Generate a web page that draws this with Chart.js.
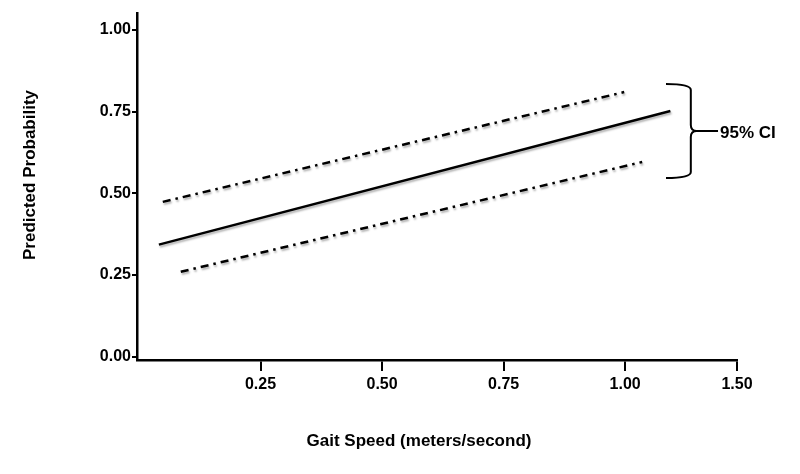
<!DOCTYPE html>
<html>
<head>
<meta charset="utf-8">
<script src="https://cdn.jsdelivr.net/npm/chart.js@4"></script>
<style>
  body { margin: 0; background: #fff; }
  canvas { display: block; }
</style>
</head>
<body>
<canvas id="myChart" width="800" height="474"></canvas>
<script>
'use strict';

// predicted probability line and its 95% CI
let fitSpeed = [0.041, 1.093];
let fitProb = [0.343, 0.752];
let upperSpeed = [0.049, 0.998];
let upperProb = [0.474, 0.81];
let lowerSpeed = [0.086, 1.035];
let lowerProb = [0.26, 0.596];

// axis ticks (last x tick sits at the end of the axis but reads 1.50)
let xTickValues = [0.25, 0.5, 0.75, 1.0, 1.23];
let xTickLabels = ['0.25', '0.50', '0.75', '1.00', '1.50'];
let yTickValues = [0, 0.25, 0.5, 0.75, 1.0];
let yTickLabels = ['0.00', '0.25', '0.50', '0.75', '1.00'];

let xTitle = 'Gait Speed (meters/second)';
let yTitle = 'Predicted Probability';

// brace for the CI label
let ciLabel = '95% CI';
let braceTop = 0.835;
let braceBottom = 0.547;
let braceLeft = 1.084;
let braceStem = 1.135;
let braceRight = 1.191;

let font = '"Liberation Sans", Arial, sans-serif';

function toPoints(xs, ys) {
    let pts = [];
    for (let i = 0; i < xs.length; i++) {
        pts.push({ x: xs[i], y: ys[i] });
    }
    return pts;
}

// soft drop shadow under the lines, like the original figure
let shadowPlugin = {
    id: 'shadow',
    beforeDatasetsDraw(chart) {
        let c = chart.ctx;
        c.save();
        c.shadowColor = 'rgba(0,0,0,0.3)';
        c.shadowBlur = 2;
        c.shadowOffsetX = 1;
        c.shadowOffsetY = 2;
    },
    afterDatasetsDraw(chart) {
        chart.ctx.restore();
    }
};

let labelPlugin = {
    id: 'labels',
    afterDraw(chart) {
        let c = chart.ctx;
        let xs = chart.scales.x;
        let ys = chart.scales.y;
        let top = ys.getPixelForValue(braceTop);
        let bottom = ys.getPixelForValue(braceBottom);
        let left = xs.getPixelForValue(braceLeft);
        let stem = xs.getPixelForValue(braceStem);
        let right = xs.getPixelForValue(braceRight);
        let mid = (top + bottom) / 2;
        let r = 6;
        c.save();
        c.strokeStyle = '#000';
        c.lineWidth = 2;
        c.beginPath();
        c.moveTo(left, top);
        c.quadraticCurveTo(stem, top, stem, top + r);
        c.lineTo(stem, mid - r);
        c.quadraticCurveTo(stem, mid, stem + r, mid);
        c.quadraticCurveTo(stem, mid, stem, mid + r);
        c.lineTo(stem, bottom - r);
        c.quadraticCurveTo(stem, bottom, left, bottom);
        c.moveTo(stem + r, mid);
        c.lineTo(right, mid);
        c.stroke();

        c.fillStyle = '#000';
        c.font = 'bold 17px ' + font;
        c.textAlign = 'left';
        c.textBaseline = 'middle';
        c.fillText(ciLabel, right + 2, mid + 2);

        // axis titles
        c.textAlign = 'center';
        c.fillText(xTitle, 419, 441);
        c.translate(30, 175);
        c.rotate(-Math.PI / 2);
        c.fillText(yTitle, 0, 0);
        c.restore();
    }
};

let lineStyle = {
    showLine: true,
    pointRadius: 0,
    borderColor: '#000',
    borderWidth: 2.5,
    fill: false
};

let ctx = document.getElementById('myChart').getContext('2d');
let myChart = new Chart(ctx, {
    type: 'scatter',
    data: {
        datasets: [
            Object.assign({ label: 'Predicted', data: toPoints(fitSpeed, fitProb) }, lineStyle),
            Object.assign({ label: 'Upper CI', data: toPoints(upperSpeed, upperProb), borderDash: [8, 5, 2.5, 5] }, lineStyle),
            Object.assign({ label: 'Lower CI', data: toPoints(lowerSpeed, lowerProb), borderDash: [8, 5, 2.5, 5] }, lineStyle)
        ]
    },
    options: {
        responsive: false,
        animation: false,
        layout: { padding: { top: 13, right: 63, left: 0, bottom: 0 } },
        plugins: {
            legend: { display: false },
            tooltip: { enabled: false }
        },
        scales: {
            x: {
                type: 'linear',
                min: -0.004,
                max: 1.23,
                afterFit(scale) { scale.height = 114; },
                afterBuildTicks(scale) {
                    scale.ticks = xTickValues.map(v => ({ value: v }));
                },
                ticks: {
                    color: '#000',
                    padding: 4,
                    maxRotation: 0,
                    font: { family: font, size: 16, weight: 'bold' },
                    callback: (v, i) => xTickLabels[i]
                },
                grid: { drawOnChartArea: false, drawTicks: true, tickLength: 11, color: '#000', lineWidth: 2 },
                border: { display: true, color: '#000', width: 2.5 }
            },
            y: {
                type: 'linear',
                min: -0.01,
                max: 1.052,
                afterFit(scale) { scale.width = 137; },
                afterBuildTicks(scale) {
                    scale.ticks = yTickValues.map(v => ({ value: v }));
                },
                ticks: {
                    color: '#000',
                    padding: 1,
                    font: { family: font, size: 16, weight: 'bold' },
                    callback: (v, i) => yTickLabels[i]
                },
                grid: { drawOnChartArea: false, drawTicks: true, tickLength: 5, color: '#000', lineWidth: 2 },
                border: { display: true, color: '#000', width: 2.5 }
            }
        }
    },
    plugins: [shadowPlugin, labelPlugin]
});
</script>
</body>
</html>
